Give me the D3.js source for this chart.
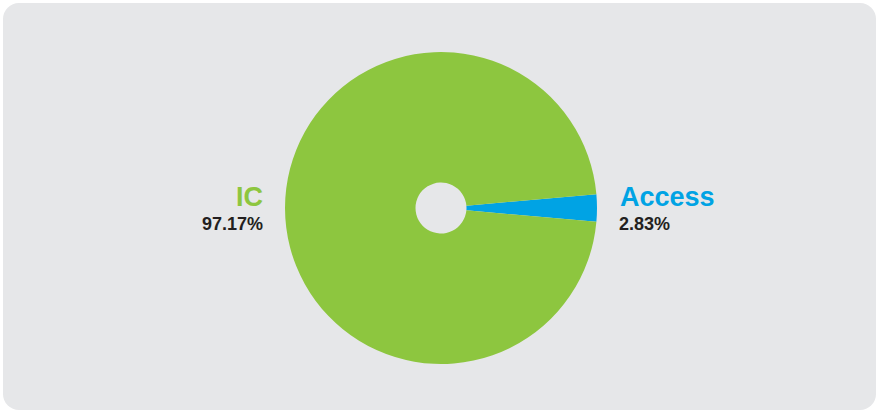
<!DOCTYPE html>
<html><head><meta charset="utf-8">
<script src="https://cdn.jsdelivr.net/npm/d3@7"></script>
<style>html,body{margin:0;padding:0;background:#fff;}svg{display:block;}</style>
</head><body>
<svg id="c" width="878" height="412"></svg>
<script>
const categories = ["Access", "IC"];
const values = [2.83, 97.17];
const labels = ["2.83%", "97.17%"];
const colors = ["#00a3e4", "#8dc63f"];

const svg = d3.select("#c");
svg.append("rect").attr("x", 3).attr("y", 3).attr("width", 873).attr("height", 407)
  .attr("rx", 16).attr("ry", 16).attr("fill", "#e6e7e9");

const cx = 441, cy = 208, R = 156, r0 = 25.5;
const total = d3.sum(values);
const start = Math.PI / 2 - Math.PI * values[0] / total;
const pie = d3.pie().sort(null).value(d => d).startAngle(start).endAngle(start + 2 * Math.PI);
const arc = d3.arc().innerRadius(r0).outerRadius(R);
const g = svg.append("g").attr("transform", `translate(${cx},${cy})`);
g.selectAll("path").data(pie(values)).join("path")
  .attr("d", arc).attr("fill", (d, i) => colors[i]);

const font = "Helvetica, 'Liberation Sans', Arial, sans-serif";
// Access label (right)
const t = svg.append("g").attr("font-family", font).attr("font-weight", "bold");
t.append("text").attr("x", 620).attr("y", 206).attr("font-size", 27).attr("fill", colors[0]).text(categories[0]);
t.append("text").attr("x", 619).attr("y", 230).attr("font-size", 18).attr("fill", "#231f20").text(labels[0]);
// IC label (left)
t.append("text").attr("x", 263).attr("y", 206).attr("text-anchor", "end").attr("font-size", 27).attr("fill", colors[1]).text(categories[1]);
t.append("text").attr("x", 263).attr("y", 230).attr("text-anchor", "end").attr("font-size", 18).attr("fill", "#231f20").text(labels[1]);
</script>
</body></html>
